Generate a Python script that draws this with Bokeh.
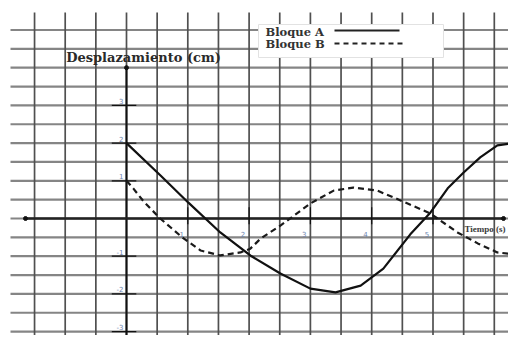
from bokeh.plotting import figure
from bokeh.models import Range1d
from bokeh.core.properties import value
from bokeh.embed import file_html
from bokeh.resources import INLINE
import numpy as np

# ---- data ----
time_a = [0.0, 0.555, 1.01, 1.53, 2.02, 2.51, 3.0, 3.41, 3.82, 4.19, 4.63, 4.96, 5.24, 5.5, 5.77, 6.05, 6.26, 6.49]
disp_a = [2.0, 1.14, 0.42, -0.37, -0.98, -1.46, -1.86, -1.96, -1.78, -1.33, -0.42, 0.16, 0.8, 1.22, 1.62, 1.94, 1.99, 2.0]
time_b = [0.0, 0.11, 0.28, 0.55, 0.91, 1.21, 1.53, 1.86, 2.02, 2.19, 2.51, 3.0, 3.38, 3.7, 4.09, 4.47, 4.96, 5.4, 5.73, 6.05, 6.49]
disp_b = [1.0, 0.8, 0.45, 0.0, -0.5, -0.85, -0.98, -0.9, -0.8, -0.53, -0.19, 0.4, 0.74, 0.82, 0.74, 0.48, 0.13, -0.37, -0.66, -0.9, -0.98]
x_ticks = [1, 2, 3, 4, 5]
y_ticks = [-3, -2, -1, 1, 2, 3]
grid_x = list(np.arange(-1.5, 6.51, 0.5))
grid_y = list(np.arange(-3.5, 5.01, 0.5))
y_title = "Desplazamiento (cm)"
x_title = "Tiempo (s)"
series_names = ["Bloque A", "Bloque B"]

# ---- layout (reference pixels -> data) ----
W, H = 508, 335
X0, Y0 = 126.0, 218.0
SX, SY = 61.3, 37.7


def dx(px):
    return (px - X0) / SX


def dy(py):
    return (Y0 - py) / SY


p = figure(width=W, height=H,
           x_range=Range1d(dx(0), dx(W)), y_range=Range1d(dy(H), dy(0)),
           x_axis_type=None, y_axis_type=None, toolbar_location=None,
           output_backend="svg", min_border=0, outline_line_color=None,
           background_fill_color="white", border_fill_color="white")

# graph paper
p.segment(x0=dx(10), x1=dx(540), y0=grid_y, y1=grid_y, line_color="#858585", line_width=2.2)
p.segment(x0=grid_x, x1=grid_x, y0=dy(12), y1=dy(400), line_color="#505050", line_width=1.7)

# axes
p.segment(x0=[0], x1=[0], y0=[4], y1=[dy(400)], line_color="#111111", line_width=2)
p.segment(x0=[dx(25)], x1=[dx(503)], y0=[0], y1=[0], line_color="#222222", line_width=2.4)
p.scatter(x=[0, dx(25), dx(503)], y=[4, 0, 0], size=4, color="#111111")

# ticks
p.segment(x0=[-0.24] * len(y_ticks), x1=[0.16] * len(y_ticks), y0=y_ticks, y1=y_ticks,
          line_color="#111111", line_width=1.2)
p.segment(x0=x_ticks, x1=x_ticks, y0=[0.3] * len(x_ticks), y1=[-0.15] * len(x_ticks),
          line_color="#111111", line_width=1.2)
p.text(x=[-0.05] * len(y_ticks), y=[v + 0.04 for v in y_ticks], text=[str(v) for v in y_ticks],
       text_align="right", text_baseline="bottom", text_font_size="7px",
       text_color="#6f86b0", text_font=value("DejaVu Sans"))
p.text(x=[t - 0.1 for t in x_ticks], y=[-0.4] * len(x_ticks), text=[str(t) for t in x_ticks],
       text_align="center", text_baseline="middle", text_font_size="7px",
       text_color="#6f86b0", text_font=value("DejaVu Sans"))

# curves
p.line(time_a, disp_a, line_color="#111111", line_width=2.2)
p.line(time_b, disp_b, line_color="#1a1a1a", line_width=2.2, line_dash="6 4")

# titles
p.text(x=[dx(143)], y=[dy(57)], text=[y_title], text_align="center", text_baseline="middle",
       text_font=value("DejaVu Serif"), text_font_style="bold", text_font_size="13px",
       text_color="#2a2a2a")
p.text(x=[dx(464)], y=[dy(228)], text=[x_title], text_align="left", text_baseline="middle",
       text_font=value("Liberation Serif"), text_font_style="bold", text_font_size="9px",
       text_color="#3a3a3a")

# legend box
p.quad(left=[dx(258)], right=[dx(443)], top=[dy(24)], bottom=[dy(57)],
       fill_color="white", line_color="#e2e2e2", line_width=1)
p.text(x=[dx(265), dx(265)], y=[dy(31), dy(43)], text=series_names, text_align="left",
       text_baseline="middle", text_font=value("DejaVu Serif"), text_font_style="bold",
       text_font_size="11.5px", text_color="#333333")
p.segment(x0=[dx(334)], x1=[dx(399)], y0=[dy(30)], y1=[dy(30)], line_color="#222222", line_width=2)
p.segment(x0=[dx(334)], x1=[dx(405)], y0=[dy(43)], y1=[dy(43)], line_color="#222222",
          line_width=2, line_dash="5 4")

open("out.html", "w").write(file_html(p, INLINE))
